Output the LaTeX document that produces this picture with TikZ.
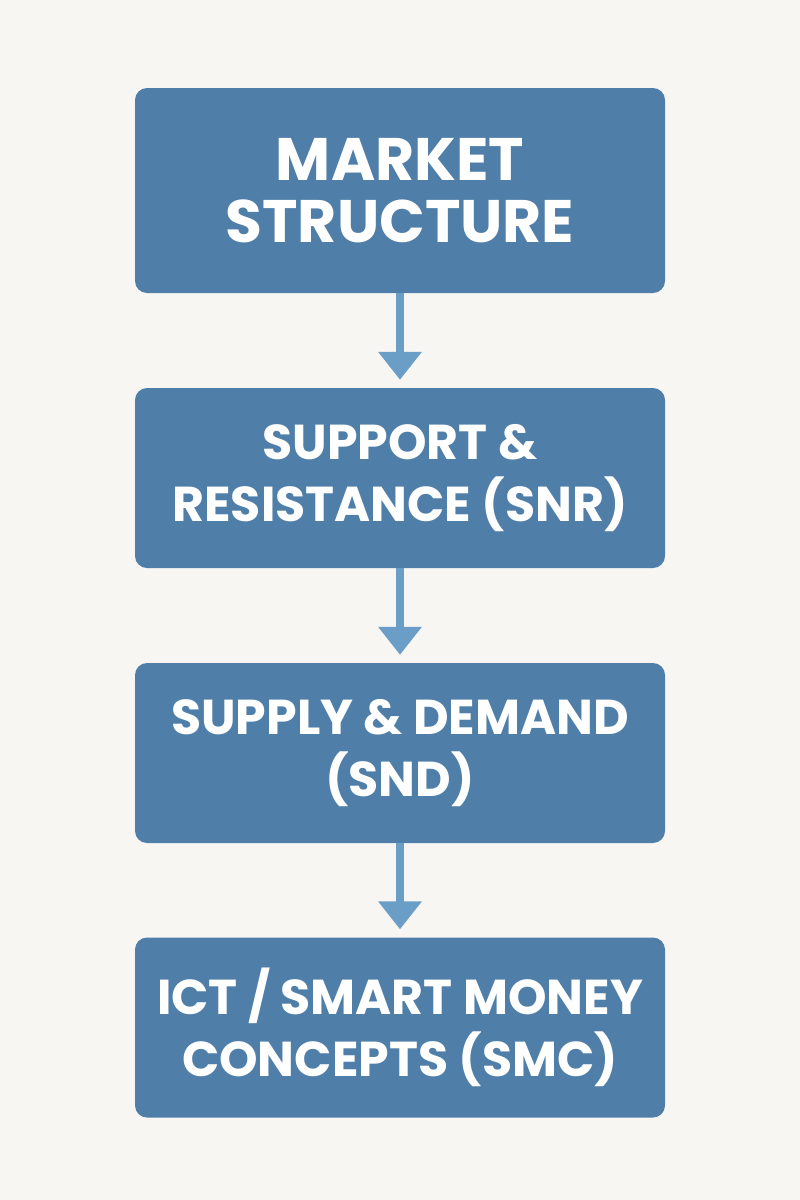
\documentclass[tikz,border=0pt]{standalone}
\usepackage{fontspec}
\setmainfont{Poppins}
\usetikzlibrary{arrows.meta}
\definecolor{bgcol}{HTML}{F8F6F3}
\definecolor{boxcol}{HTML}{4F7FA8}
\definecolor{arrcol}{HTML}{6A9EC6}

\begin{document}
\begin{tikzpicture}[x=1pt,y=-1pt]
	\tikzstyle{stage}=[rectangle,rounded corners=12pt,fill=boxcol,text=white,
		minimum width=530pt,minimum height=180pt,align=center,
		font=\fontsize{49}{62}\selectfont\bfseries];
	\tikzstyle{flow}=[draw=arrcol,line width=8pt,
		-{Triangle[width=42pt,length=28pt]},shorten >=8pt];

	\fill[bgcol] (0,0) rectangle (800,1200);
	\useasboundingbox (0,0) rectangle (800,1200);

	\node[stage,minimum height=205pt,font=\fontsize{60}{62}\selectfont\bfseries]
		(ms)  at (400,190.5) {MARKET\\STRUCTURE};
	\node[stage] (snr) at (400,478)   {SUPPORT \&\\RESISTANCE (SNR)};
	\node[stage] (snd) at (400,753)   {SUPPLY \& DEMAND\\(SND)};
	\node[stage] (smc) at (400,1027.5) {ICT / SMART MONEY\\CONCEPTS (SMC)};

	\draw[flow] (ms)  -- (snr);
	\draw[flow] (snr) -- (snd);
	\draw[flow] (snd) -- (smc);
\end{tikzpicture}
\end{document}
